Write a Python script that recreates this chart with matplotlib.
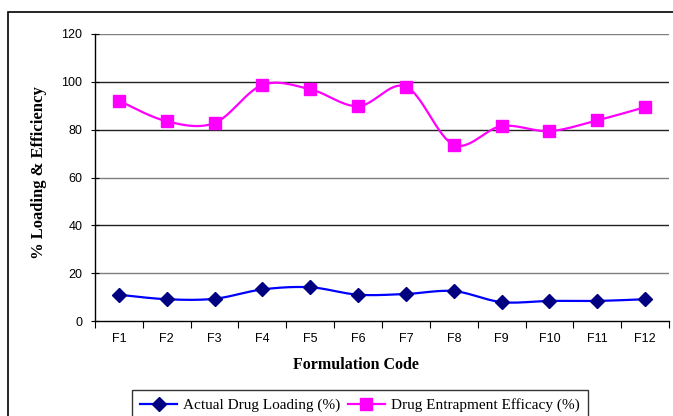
import numpy as np
import matplotlib
matplotlib.use("Agg")
import matplotlib.pyplot as plt
from matplotlib.patches import Rectangle

# Formulation codes and measured values
codes = ["F1", "F2", "F3", "F4", "F5", "F6", "F7", "F8", "F9", "F10", "F11", "F12"]
drug_loading = [11.0, 9.1, 9.3, 13.2, 14.1, 11.0, 11.3, 12.5, 7.9, 8.4, 8.4, 9.1]
entrapment = [92.1, 83.5, 82.8, 98.7, 96.9, 89.8, 98.0, 73.7, 81.5, 79.4, 83.9, 89.4]
y_ticks = [0, 20, 40, 60, 80, 100, 120]


def smooth(xs, ys, n=30):
    """Catmull-Rom style cubic Bezier through every point."""
    xs = np.asarray(xs, float)
    ys = np.asarray(ys, float)
    pts = np.column_stack([xs, ys])
    out = []
    for i in range(len(pts) - 1):
        p0 = pts[i - 1] if i > 0 else pts[i]
        p1 = pts[i]
        p2 = pts[i + 1]
        p3 = pts[i + 2] if i + 2 < len(pts) else pts[i + 1]
        c1 = p1 + (p2 - p0) / 6.0
        c2 = p2 - (p3 - p1) / 6.0
        t = np.linspace(0, 1, n)[:, None]
        seg = ((1 - t) ** 3) * p1 + 3 * ((1 - t) ** 2) * t * c1 + 3 * (1 - t) * t ** 2 * c2 + t ** 3 * p2
        out.append(seg if i == 0 else seg[1:])
    seg = np.vstack(out)
    return seg[:, 0], seg[:, 1]


W, H = 673, 416
fig = plt.figure(figsize=(W / 100, H / 100), dpi=100)
ax = fig.add_axes([95 / W, 1 - 321 / H, (669 - 95) / W, (321 - 34) / H])

x = np.arange(len(codes))
serif = "Liberation Serif"
sans = "Liberation Sans"

sx, sy = smooth(x, drug_loading)
ax.plot(sx, sy, color="#0000FF", lw=1.6, zorder=3)
ax.plot(x, drug_loading, ls="none", marker="D", ms=7, color="#000080",
        mec="#000080", zorder=4)

ex, ey = smooth(x, entrapment)
ax.plot(ex, ey, color="#FF00FF", lw=1.6, zorder=3)
ax.plot(x, entrapment, ls="none", marker="s", ms=8.5, color="#FF00FF",
        mec="#FF00FF", zorder=4)

ax.set_xlim(-0.5, len(codes) - 0.5)
ax.set_ylim(0, 120)
ax.set_yticks(y_ticks)
ax.set_yticklabels([str(v) for v in y_ticks], fontfamily=sans, fontsize=9)
ax.set_xticks(np.arange(-0.5, len(codes), 1.0))
ax.set_xticklabels([])
ax.set_xticks(x, minor=True)
ax.set_xticklabels(codes, minor=True, fontfamily=sans, fontsize=9)
ax.tick_params(axis="x", which="major", direction="out", length=5, width=0.8)
ax.tick_params(axis="x", which="minor", length=0, pad=9)
ax.tick_params(axis="y", direction="inout", length=6, width=0.8, pad=6)

grid_colors = {20: "#7f7f7f", 40: "#222222", 60: "#7f7f7f",
               80: "#222222", 100: "#222222", 120: "#7f7f7f"}
for v in y_ticks[1:]:
    ax.axhline(v, color=grid_colors[v], lw=1.0, zorder=1)

for s in ("top", "right"):
    ax.spines[s].set_visible(False)
ax.spines["left"].set_linewidth(1.0)
ax.spines["bottom"].set_linewidth(1.0)

fig.text(39 / W, 1 - 173 / H, "% Loading & Efficiency", rotation=90,
         ha="center", va="center", fontfamily=serif, fontweight="bold", fontsize=12)
fig.text(356 / W, 1 - 365 / H, "Formulation Code", ha="center", va="center",
         fontfamily=serif, fontweight="bold", fontsize=11.5)

h1, = ax.plot([], [], color="#0000FF", lw=1.6, marker="D", ms=7,
              mfc="#000080", mec="#000080")
h2, = ax.plot([], [], color="#FF00FF", lw=1.6, marker="s", ms=8.5,
              mfc="#FF00FF", mec="#FF00FF")
leg = fig.legend([h1, h2], ["Actual Drug Loading (%)", "Drug Entrapment Efficacy (%)"],
                 loc="upper left", bbox_to_anchor=(132 / W, 1 - 390 / H), ncol=2,
                 numpoints=1, handlelength=2.4, columnspacing=0.5, handletextpad=0.4,
                 borderpad=0.55, borderaxespad=0, fancybox=False,
                 prop={"family": serif, "size": 11})
leg.get_frame().set_edgecolor("black")
leg.get_frame().set_linewidth(1.0)

# Outer chart border
fig.patches.append(Rectangle((8 / W, -0.1), 1.2, 1 - 12 / H + 0.1, transform=fig.transFigure,
                             fill=False, edgecolor="black", lw=1.2))

fig.savefig("out.png", dpi=100)
